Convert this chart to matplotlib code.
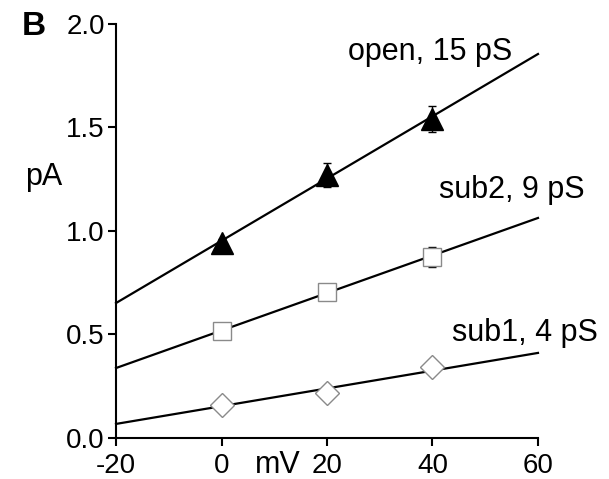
import numpy as np
import matplotlib.pyplot as plt

plt.rcParams['font.family'] = ['Liberation Sans', 'DejaVu Sans']
plt.rcParams['axes.unicode_minus'] = False

# voltage steps (mV)
mv = [0, 20, 40]

# mean current amplitudes (pA) and errors
open_pa = [0.94, 1.27, 1.54]
open_err = [0.02, 0.057, 0.063]
sub2_pa = [0.515, 0.705, 0.875]
sub2_err = [0.02, 0.02, 0.05]
sub1_pa = [0.16, 0.218, 0.345]
sub1_err = [0.01, 0.01, 0.01]

# linear fits, evaluated at the ends of the axis
fit_mv = [-20, 60]
open_fit = [0.652, 1.855]
sub2_fit = [0.338, 1.063]
sub1_fit = [0.068, 0.411]

labels = ["open, 15 pS", "sub2, 9 pS", "sub1, 4 pS"]

fig = plt.figure(figsize=(6.09, 4.79), dpi=100)
ax = fig.add_axes([0.1905, 0.0856, 0.6929, 0.8643])

for fit in (open_fit, sub2_fit, sub1_fit):
    ax.plot(fit_mv, fit, color="black", lw=1.6, zorder=1, clip_on=False)

ax.errorbar(mv, open_pa, yerr=open_err, fmt="none", ecolor="black",
            elinewidth=1.0, capsize=3, capthick=1.0, zorder=2)
ax.errorbar(mv, sub2_pa, yerr=sub2_err, fmt="none", ecolor="black",
            elinewidth=1.0, capsize=3, capthick=1.0, zorder=2)
ax.plot(mv, open_pa, "^", ms=16.5, mfc="black", mec="black", zorder=3)
ax.plot(mv, sub2_pa, "s", ms=13.5, mfc="white", mec="#8a8a8a", mew=1.0, zorder=3)
ax.plot(mv, sub1_pa, "D", ms=12, mfc="white", mec="#8a8a8a", mew=1.0, zorder=3)

ax.set_xlim(-20, 60)
ax.set_ylim(0, 2.0)
ax.set_xticks([-20, 0, 20, 40, 60])
ax.set_yticks([0, 0.5, 1.0, 1.5, 2.0])
ax.set_yticklabels(["0.0", "0.5", "1.0", "1.5", "2.0"])
ax.spines["top"].set_visible(False)
ax.spines["right"].set_visible(False)
ax.spines["left"].set_linewidth(1.5)
ax.spines["bottom"].set_linewidth(1.5)
ax.tick_params(direction="out", length=6, width=1.5, labelsize=20, pad=2)
ax.tick_params(axis="x", pad=5)

ax.text(39.6, 1.865, labels[0], fontsize=22, ha="center", va="center")
ax.text(55.0, 1.20, labels[1], fontsize=22, ha="center", va="center")
ax.text(57.5, 0.507, labels[2], fontsize=22, ha="center", va="center")

fig.text(0.072, 0.63, "pA", fontsize=22, ha="center", va="center")
fig.text(0.4565, 0.012, "mV", fontsize=22, ha="center", va="baseline")
fig.text(0.035, 0.945, "B", fontsize=24, fontweight="bold", ha="left", va="center")

fig.savefig("out.png", dpi=100)
